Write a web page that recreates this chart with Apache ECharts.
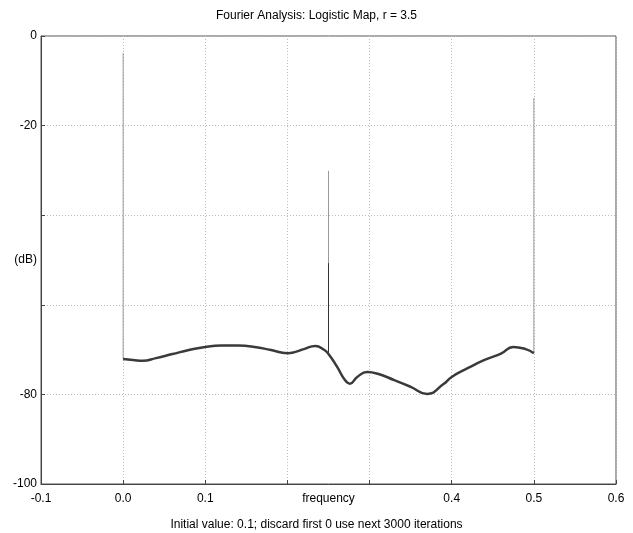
<!DOCTYPE html>
<html>
<head>
<meta charset="utf-8">
<script src="https://cdn.jsdelivr.net/npm/echarts@6/dist/echarts.min.js"></script>
<style>
  html, body { margin: 0; padding: 0; background: #fff; }
  #chart { width: 633px; height: 533px; }
</style>
</head>
<body>
<div id="chart"></div>
<script>
// spectrum (frequency, dB)
const freq = [0.0, 0.012, 0.024, 0.04, 0.06, 0.08, 0.1, 0.12, 0.14, 0.16, 0.18, 0.2,
  0.21, 0.22, 0.234, 0.245, 0.25, 0.26, 0.27, 0.276, 0.285, 0.297, 0.31, 0.33, 0.35,
  0.37, 0.39, 0.4, 0.42, 0.44, 0.46, 0.475, 0.49, 0.5];
const power = [-72.1, -72.3, -72.5, -71.9, -71.0, -70.1, -69.4, -69.1, -69.1, -69.4, -70.1, -70.8,
  -70.5, -69.9, -69.2, -70.1, -71.0, -73.7, -76.8, -77.6, -76.1, -75.0, -75.4, -76.8, -78.3,
  -79.9, -77.7, -76.1, -74.1, -72.3, -70.9, -69.4, -69.9, -70.8];

// spikes: frequency, base (on curve), top
const spikeFreq = [0.0, 0.25, 0.5];
const spikeBase = [-72.1, -71.0, -70.8];
const spikeTop = [-3.8, -30.1, -13.8];
// darker lower piece of the middle spike
const darkSpike = [[0.25, -71.0], [0.25, -50.7]];

const xTicksShown = ['-0.1', '0.0', '0.1', '0.4', '0.5', '0.6'];
const yTicksShown = [0, -20, -80, -100];

const font = 'Liberation Sans, Arial, sans-serif';

const spikeSeries = spikeFreq.map((f, i) => ({
  type: 'line',
  data: [[f, spikeBase[i]], [f, spikeTop[i]]],
  symbol: 'none',
  lineStyle: { color: '#9a9a9a', width: 1 },
  z: 2
}));

const chart = echarts.init(document.getElementById('chart'));
chart.setOption({
  animation: false,
  backgroundColor: '#fff',
  title: [
    {
      text: 'Fourier Analysis: Logistic Map, r = 3.5',
      left: 'center', top: 5,
      textStyle: { fontFamily: font, fontSize: 12, fontWeight: 'normal', color: '#000' }
    },
    {
      text: 'Initial value: 0.1; discard first 0 use next 3000 iterations',
      left: 'center', top: 514,
      textStyle: { fontFamily: font, fontSize: 12, fontWeight: 'normal', color: '#000' }
    }
  ],
  grid: {
    left: 41, right: 17, top: 36, bottom: 49,
    containLabel: false,
    outerBoundsMode: 'none',
    show: true, borderColor: '#555', borderWidth: 1
  },
  xAxis: {
    type: 'value',
    min: -0.1, max: 0.6, interval: 0.1,
    name: 'frequency',
    nameLocation: 'middle',
    nameGap: 9,
    nameMoveOverlap: false,
    nameTextStyle: { fontFamily: font, fontSize: 12, color: '#000', verticalAlign: 'top' },
    axisLine: { onZero: false, lineStyle: { color: '#444' } },
    axisTick: { inside: true, length: 4, lineStyle: { color: '#444' } },
    axisLabel: {
      fontFamily: font, fontSize: 12, color: '#000', margin: 9,
      formatter: v => {
        const s = (Math.round(v * 10) / 10).toFixed(1);
        return xTicksShown.includes(s) ? s : '';
      }
    },
    splitLine: { lineStyle: { color: '#bbb', type: [1, 2] } }
  },
  yAxis: {
    type: 'value',
    min: -100, max: 0, interval: 20,
    name: '(dB)',
    nameLocation: 'middle',
    nameRotate: 0,
    nameGap: 4,
    nameMoveOverlap: false,
    nameTextStyle: { fontFamily: font, fontSize: 12, color: '#000', align: 'right' },
    axisLine: { onZero: false, lineStyle: { color: '#444' } },
    axisTick: { inside: true, length: 4, lineStyle: { color: '#444' } },
    axisLabel: {
      fontFamily: font, fontSize: 12, color: '#000', margin: 4,
      formatter: v => (yTicksShown.includes(Math.round(v)) ? String(Math.round(v)) : '')
    },
    splitLine: { lineStyle: { color: '#bbb', type: [1, 2] } }
  },
  series: [
    ...spikeSeries,
    {
      type: 'line',
      data: darkSpike,
      symbol: 'none',
      lineStyle: { color: '#333', width: 1 },
      z: 3
    },
    {
      type: 'line',
      data: freq.map((f, i) => [f, power[i]]),
      symbol: 'none',
      smooth: 0.5,
      lineStyle: { color: '#3a3a3a', width: 2.5 },
      z: 4
    }
  ]
});
</script>
</body>
</html>
